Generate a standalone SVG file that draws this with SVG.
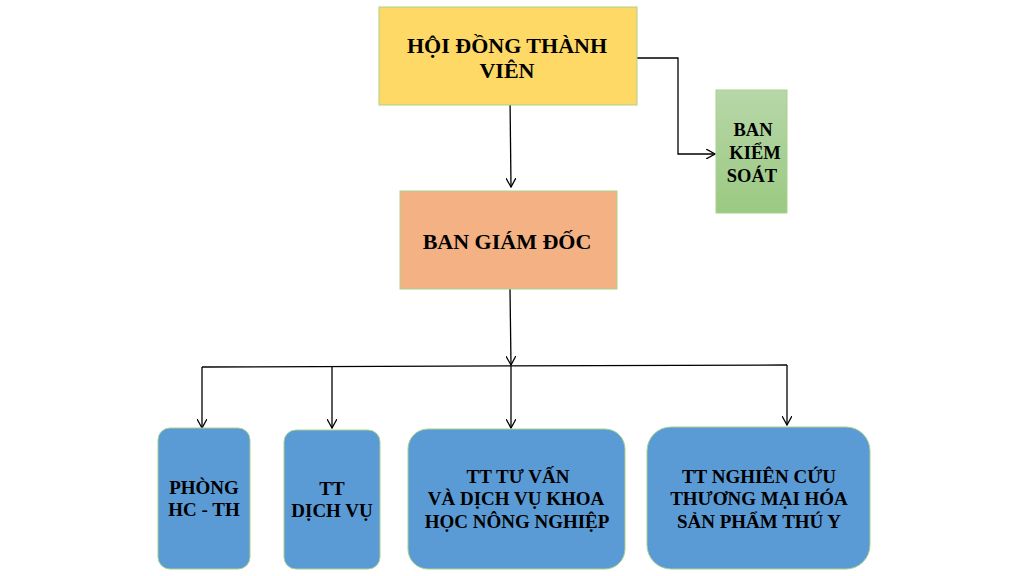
<svg xmlns="http://www.w3.org/2000/svg" width="1024" height="576" viewBox="0 0 1024 576">
<style>
.t{font-family:"Liberation Serif","Times New Roman",serif;font-weight:bold;fill:#000;text-anchor:middle}
.big{font-size:22px}
.sm{font-size:19px}
.ks{font-size:18.5px}
.box{stroke:#A9D18E;stroke-width:1}
.ln{fill:none;stroke:#000;stroke-width:1.3}
</style>
<defs>
<marker id="ah" viewBox="0 0 10 10" refX="9" refY="5" markerWidth="10" markerHeight="10" markerUnits="userSpaceOnUse" orient="auto">
<path d="M0,0 L9,5 L0,10" fill="none" stroke="#000" stroke-width="1.3"/>
</marker>
<linearGradient id="g" x1="0" y1="0" x2="0" y2="1">
<stop offset="0" stop-color="#B7D7A8"/>
<stop offset="1" stop-color="#9BC982"/>
</linearGradient>
</defs>
<rect width="1024" height="576" fill="#fff"/>
<g id="connectors">
<line class="ln" x1="510" y1="97" x2="511" y2="187" marker-end="url(#ah)"/>
<polyline class="ln" points="637,58 678,58 678,154 715,154" marker-end="url(#ah)"/>
<line class="ln" x1="510" y1="289" x2="511" y2="365" marker-end="url(#ah)"/>
<line class="ln" x1="202" y1="367" x2="787" y2="365"/>
<line class="ln" x1="202" y1="367" x2="202" y2="428" marker-end="url(#ah)"/>
<line class="ln" x1="332" y1="367" x2="332" y2="428" marker-end="url(#ah)"/>
<line class="ln" x1="511" y1="366" x2="511" y2="428" marker-end="url(#ah)"/>
<line class="ln" x1="787" y1="365" x2="787" y2="425" marker-end="url(#ah)"/>
</g>
<g id="hdtv">
<rect class="box" x="379" y="7" width="258" height="98" fill="#FFD966"/>
<text class="t big" x="507" y="53">HỘI ĐỒNG THÀNH</text>
<text class="t big" x="507" y="78">VIÊN</text>
</g>
<g id="bks">
<rect class="box" x="716" y="90" width="71" height="123" fill="url(#g)"/>
<text class="t ks" x="753" y="136">BAN</text>
<text class="t ks" x="755" y="159">KIỂM</text>
<text class="t ks" x="752" y="182">SOÁT</text>
</g>
<g id="bgd">
<rect class="box" x="400" y="191" width="217" height="98" fill="#F4B183"/>
<text class="t big" x="507" y="249">BAN GIÁM ĐỐC</text>
</g>
<g id="phong">
<rect class="box" x="158" y="428" width="92" height="141" rx="12" fill="#5B9BD5"/>
<text class="t sm" x="204" y="494">PHÒNG</text>
<text class="t sm" x="204" y="516">HC - TH</text>
</g>
<g id="dichvu">
<rect class="box" x="284" y="430" width="96" height="139" rx="12" fill="#5B9BD5"/>
<text class="t sm" x="332" y="495">TT</text>
<text class="t sm" x="332" y="517">DỊCH VỤ</text>
</g>
<g id="tuvan">
<rect class="box" x="408" y="429" width="217" height="140" rx="20" fill="#5B9BD5"/>
<text class="t sm" x="518" y="483">TT TƯ VẤN</text>
<text class="t sm" x="516" y="505">VÀ DỊCH VỤ KHOA</text>
<text class="t sm" x="517" y="528">HỌC NÔNG NGHIỆP</text>
</g>
<g id="nghiencuu">
<rect class="box" x="647" y="427" width="223" height="142" rx="24" fill="#5B9BD5"/>
<text class="t sm" x="759" y="483">TT NGHIÊN CỨU</text>
<text class="t sm" x="759" y="505">THƯƠNG MẠI HÓA</text>
<text class="t sm" x="759" y="528">SẢN PHẨM THÚ Y</text>
</g>
</svg>
